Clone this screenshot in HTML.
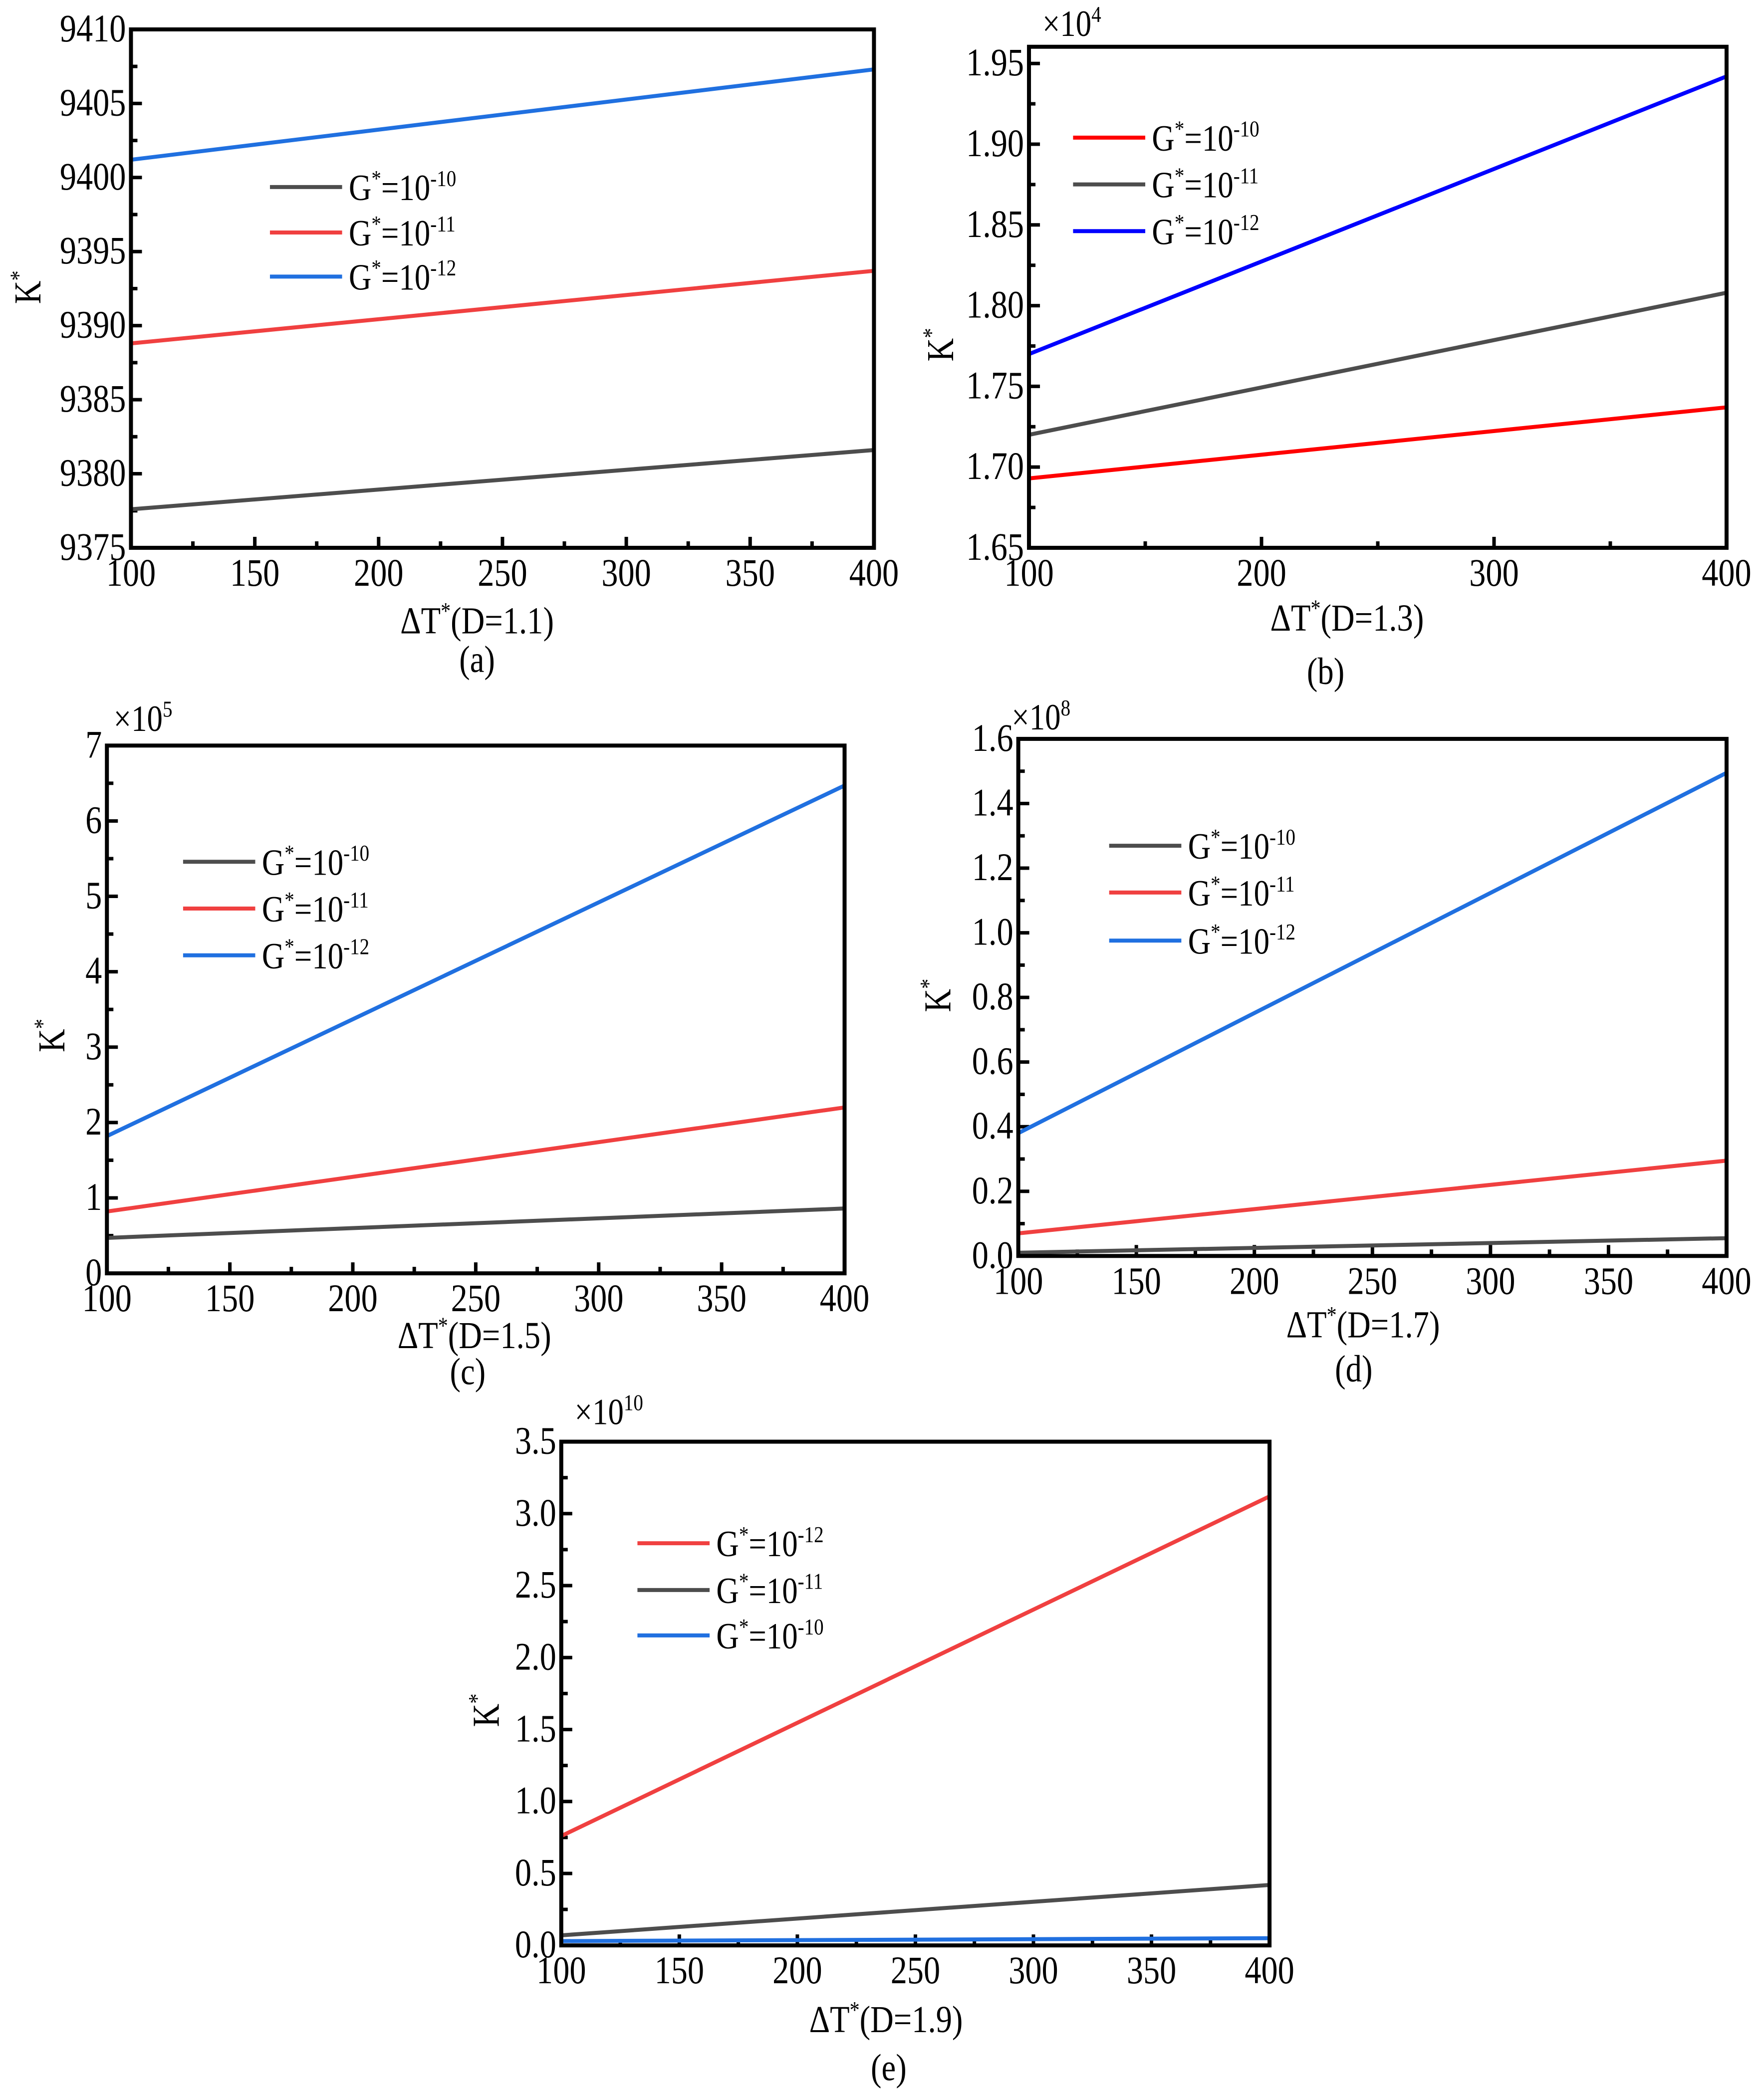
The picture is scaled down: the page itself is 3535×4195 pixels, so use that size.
<!DOCTYPE html>
<html><head><meta charset="utf-8"><style>
html,body{margin:0;padding:0;background:#fff}
svg{display:block}
text,tspan{font-family:"Liberation Serif","Times New Roman",serif;fill:#000}
</style></head><body>
<svg id="fig" xmlns="http://www.w3.org/2000/svg" width="3535" height="4195" viewBox="0 0 3535 4195" font-family="Liberation Serif, serif"></svg>
<script>
// ---- data ----
const xValues = [100, 400];
const aGray = [9377.6, 9381.6];
const aRed = [9388.8, 9393.7];
const aBlue = [9401.2, 9407.3];
const bRed = [1.693, 1.737];
const bGray = [1.720, 1.808];
const bBlue = [1.770, 1.942];
const cGray = [0.47, 0.86];
const cRed = [0.82, 2.20];
const cBlue = [1.82, 6.47];
const dGray = [0.01, 0.055];
const dRed = [0.07, 0.295];
const dBlue = [0.38, 1.495];
const eRed = [0.76, 3.12];
const eGray = [0.07, 0.42];
const eBlue = [0.03, 0.05];
const aYTicks = [9375, 9380, 9385, 9390, 9395, 9400, 9405, 9410];
const bYTicks = ["1.65", "1.70", "1.75", "1.80", "1.85", "1.90", "1.95"];
const cYTicks = [0, 1, 2, 3, 4, 5, 6, 7];
const dYTicks = ["0.0", "0.2", "0.4", "0.6", "0.8", "1.0", "1.2", "1.4", "1.6"];
const eYTicks = ["0.0", "0.5", "1.0", "1.5", "2.0", "2.5", "3.0", "3.5"];
const xTicks50 = [100, 150, 200, 250, 300, 350, 400];
const xTicks100 = [100, 200, 300, 400];

const S = 2.678;
const NS = "http://www.w3.org/2000/svg";
const svg = document.getElementById('fig');
const GRAY = "#4d4d4d", RED = "#f04040", BLUE = "#2070e0";

function el(tag, attrs, parent) {
  const e = document.createElementNS(NS, tag);
  for (const k in attrs) e.setAttribute(k, attrs[k]);
  (parent || svg).appendChild(e);
  return e;
}
function txt(parent, x, y, anchor, size, parts) {
  const t = el('text', {transform: `translate(${x},${y}) scale(0.85,1)`, 'text-anchor': anchor, 'font-size': size, 'font-family': 'Liberation Serif, serif'}, parent);
  parts.forEach(p => {
    const s = document.createElementNS(NS, 'tspan');
    if (p.sup) { s.setAttribute('dy', -size * 0.38); s.setAttribute('font-size', size * 0.62); }
    if (p.down) { s.setAttribute('dy', size * 0.38 * p.down); }
    s.textContent = p.t;
    t.appendChild(s);
  });
  return t;
}

function panel(cfg) {
  const g = el('g', {});
  
  
  const L = cfg.box[0] * S, R = cfg.box[1] * S, T = cfg.box[2] * S, B = cfg.box[3] * S;
  const ymin = cfg.yr[0];
  const yB = cfg.yAxisPx[0] * S, yT = cfg.yAxisPx[1] * S;
  const lastTick = parseFloat(cfg.yTicks[cfg.yTicks.length - 1]);
  const ys = v => yB + (v - ymin) / (lastTick - ymin) * (yT - yB);
  const xs = v => L + (v - 100) / 300 * (R - L);
  const tg = el('g', {stroke: '#000', 'stroke-width': 7}, g);
  
  
  cfg.yTicks.forEach((tv, i) => {
    const v = parseFloat(tv), y = ys(v);
    el('line', {x1: L, x2: L + 22, y1: y, y2: y}, tg);
    if (i < cfg.yTicks.length - 1) {
      const ym = ys(v + (parseFloat(cfg.yTicks[1]) - parseFloat(cfg.yTicks[0])) / 2);
      if (ym > T) el('line', {x1: L, x2: L + 13, y1: ym, y2: ym}, tg);
    }
    const lab = txt(g, L - 10, y + 24, 'end', 78, [{t: String(tv)}]);
    
    
  });
  const step = cfg.xTicks[1] - cfg.xTicks[0];
  cfg.xTicks.forEach((tv, i) => {
    const x = xs(tv);
    el('line', {x1: x, x2: x, y1: B, y2: B - 22}, tg);
    if (i < cfg.xTicks.length - 1) { const xm = xs(tv + step / 2); el('line', {x1: xm, x2: xm, y1: B, y2: B - 13}, tg); }
    const lab = txt(g, x, B + 76, 'middle', 78, [{t: String(tv)}]);
    
    
  });
  cfg.series.forEach(s => {
    const pts = xValues.map((xv, i) => xs(xv) + ',' + ys(s.v[i])).join(' ');
    const pl = el('polyline', {points: pts, fill: 'none', stroke: s.c, 'stroke-width': 8}, g);
    
    
  });
  const fr = el('rect', {x: L, y: T, width: R - L, height: B - T, fill: 'none', stroke: '#000', 'stroke-width': 8}, g);
  
  
  cfg.series.forEach((s, i) => {
    const y = cfg.leg[2 + i] * S;
    const lg = el('g', {}, g);
    
    
    el('line', {x1: cfg.leg[0] * S, x2: (cfg.leg[0] + 54) * S, y1: y, y2: y, stroke: s.c, 'stroke-width': 8}, lg);
    txt(lg, (cfg.leg[0] + 59) * S, y + 26, 'start', 74, [{t: 'G'}, {t: '*', sup: 1}, {t: '=10', down: 1}, {t: s.lab, sup: 1}]);
  });
  if (cfg.mult) {
    const m = txt(g, cfg.mult[0] * S, cfg.mult[1] * S + 24, 'start', 74, [{t: '×10'}, {t: cfg.mult[2], sup: 1}]);
    
    
  }
  const ky = el('text', {transform: `translate(${cfg.ky[0] * S + 22},${cfg.ky[1] * S}) rotate(-90) scale(0.85,1)`, 'text-anchor': 'middle', 'font-size': 76, 'font-family': 'Liberation Serif, serif'}, g);
  
  
  ky.innerHTML = 'K<tspan dy="-28" font-size="48">*</tspan>';
  const xt = txt(g, cfg.xt[0] * S, cfg.xt[1] * S + 24, 'middle', 76, [{t: 'ΔT'}, {t: '*', sup: 1}, {t: '(D=' + cfg.D + ')', down: 1}]);
  
  
  const cap = txt(g, cfg.cap[0] * S, cfg.cap[1] * S + 24, 'middle', 76, [{t: cfg.capText}]);
  
  
}

panel({name: 'panel-a', box: [98, 654, 22, 410], yr: [9375], yAxisPx: [410, 22], yTicks: aYTicks, xTicks: xTicks50,
  series: [{v: aGray, c: GRAY, lab: '-10'}, {v: aRed, c: RED, lab: '-11'}, {v: aBlue, c: BLUE, lab: '-12'}],
  leg: [202, 0, 140, 174, 207], ky: [22, 215], xt: [357, 465], cap: [357, 494], capText: '(a)', D: '1.1'});
panel({name: 'panel-b', box: [770, 1292, 35, 410], yr: [1.65], yAxisPx: [410, 47.5], yTicks: bYTicks, xTicks: xTicks100,
  series: [{v: bRed, c: '#ff0000', lab: '-10'}, {v: bGray, c: GRAY, lab: '-11'}, {v: bBlue, c: '#0000ff', lab: '-12'}],
  leg: [803, 0, 103, 138, 173], ky: [705, 258], mult: [780, 18, '4'], xt: [1008, 463], cap: [992, 503], capText: '(b)', D: '1.3'});
panel({name: 'panel-c', box: [80, 632, 558, 953], yr: [0], yAxisPx: [953, 558], yTicks: cYTicks, xTicks: xTicks50,
  series: [{v: cGray, c: GRAY, lab: '-10'}, {v: cRed, c: RED, lab: '-11'}, {v: cBlue, c: BLUE, lab: '-12'}],
  leg: [137, 0, 645, 680, 715], ky: [40, 775], mult: [85, 538, '5'], xt: [355, 1000], cap: [350, 1027], capText: '(c)', D: '1.5'});
panel({name: 'panel-d', box: [762, 1292, 553, 940], yr: [0], yAxisPx: [940, 553], yTicks: dYTicks, xTicks: xTicks50,
  series: [{v: dGray, c: GRAY, lab: '-10'}, {v: dRed, c: RED, lab: '-11'}, {v: dBlue, c: BLUE, lab: '-12'}],
  leg: [830, 0, 633, 668, 704], ky: [703, 745], mult: [757, 537, '8'], xt: [1020, 992], cap: [1013, 1025], capText: '(d)', D: '1.7'});
panel({name: 'panel-e', box: [420, 950, 1079, 1456], yr: [0], yAxisPx: [1456, 1079], yTicks: eYTicks, xTicks: xTicks50,
  series: [{v: eRed, c: RED, lab: '-12'}, {v: eGray, c: GRAY, lab: '-11'}, {v: eBlue, c: BLUE, lab: '-10'}],
  leg: [477, 0, 1155, 1190, 1224], ky: [365, 1280], mult: [430, 1057, '10'], xt: [663, 1512], cap: [665, 1548], capText: '(e)', D: '1.9'});
</script>
</body></html>
